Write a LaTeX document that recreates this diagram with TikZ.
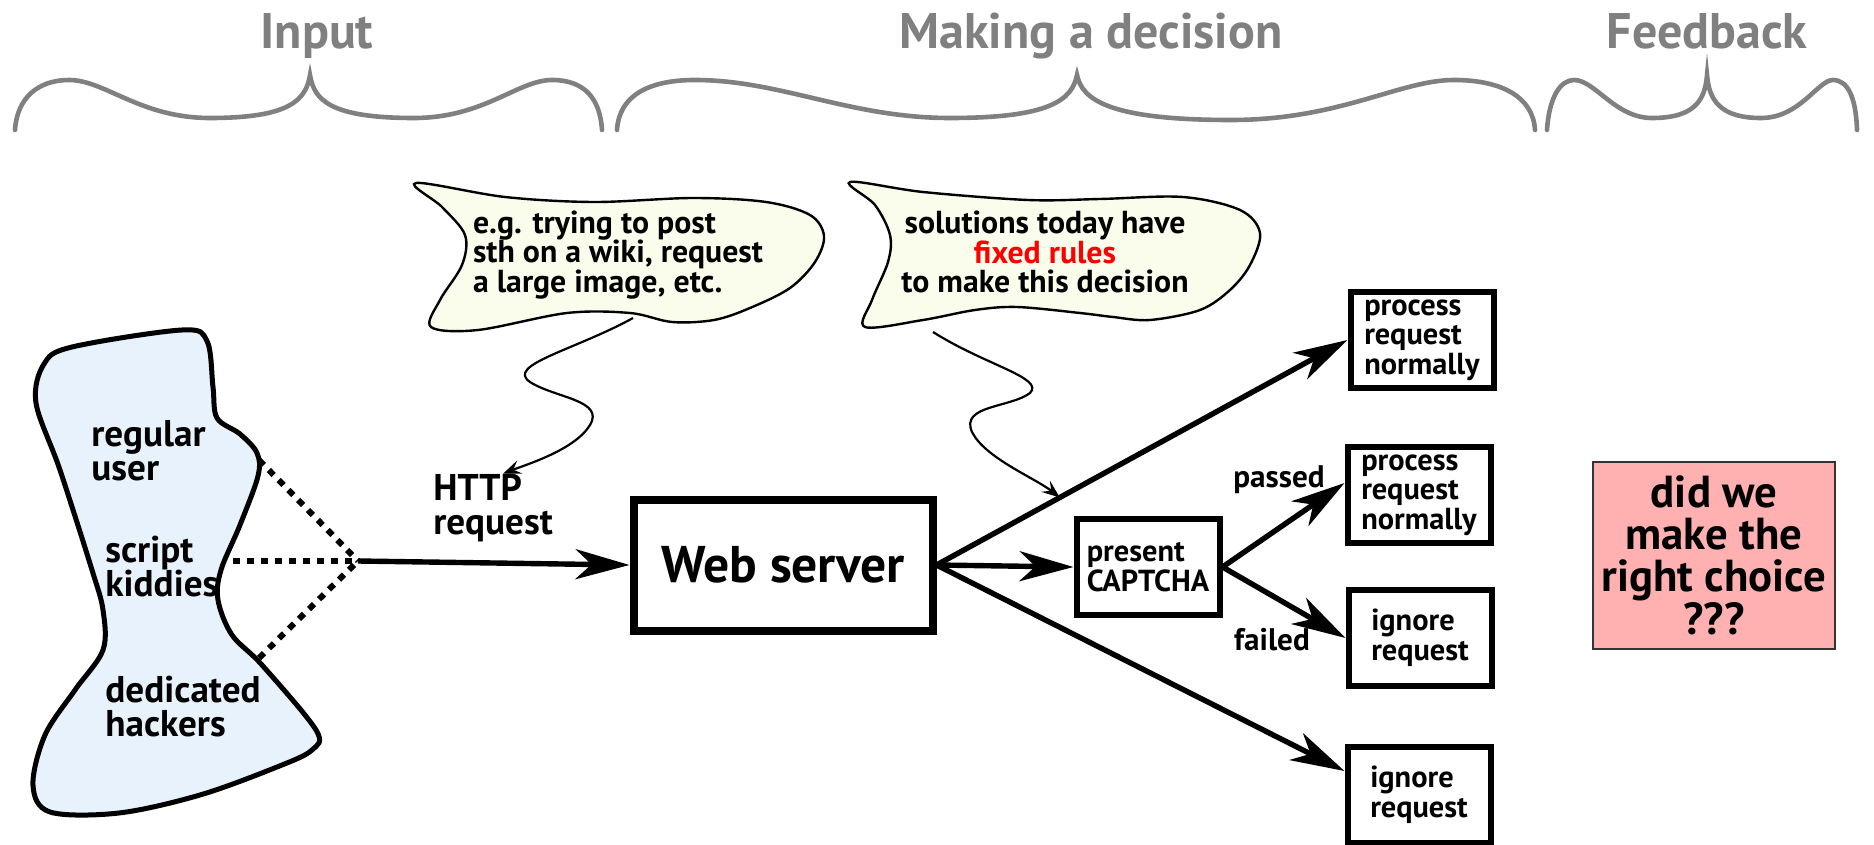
\documentclass[tikz,border=0pt]{standalone}
\usepackage{fontspec}
\setmainfont{PT Sans}
\usetikzlibrary{arrows.meta}

\definecolor{bracegray}{HTML}{808080}
\definecolor{crowdblue}{HTML}{E8F2FC}
\definecolor{noteyellow}{HTML}{FBFDEC}
\definecolor{doubtpink}{HTML}{FFB0B0}

\begin{document}
\begin{tikzpicture}[x=0.5pt, y=-0.5pt, font=\bfseries]
\tikzset{
  brace/.style = {draw=bracegray, line width=2.3pt, line cap=round},
  phase/.style = {text=bracegray, anchor=base, font=\bfseries\fontsize{25}{28}\selectfont},
  flow/.style = {line width=2.7pt, -{Stealth[length=27pt, width=15pt, inset=8pt]}},
  hint/.style = {line width=1.1pt, -{Stealth[length=9pt, width=7pt, inset=3.5pt]}},
  crowdlink/.style = {line width=3pt, dash pattern=on 3.5pt off 3.5pt},
  outcome/.style = {draw, line width=3pt, minimum width=71.5pt, minimum height=48pt,
    align=left, inner sep=0pt, font=\bfseries\fontsize{15.2}{14.8}\selectfont},
  server/.style = {draw, line width=4pt, minimum width=149.5pt, minimum height=65.5pt,
    font=\bfseries\fontsize{25.8}{28}\selectfont},
  verdict/.style = {draw=black!80, line width=1pt, fill=doubtpink, minimum width=121pt,
    minimum height=93.5pt, align=center, inner sep=0pt,
    font=\bfseries\fontsize{22.4}{21.2}\selectfont},
  who/.style = {anchor=west, align=left, inner sep=0pt, font=\bfseries\fontsize{18.6}{17}\selectfont},
  note/.style = {inner sep=0pt, font=\bfseries\fontsize{15.9}{14.8}\selectfont},
  small/.style = {inner sep=0pt, font=\bfseries\fontsize{15.6}{15}\selectfont}
}
\useasboundingbox (0,0) rectangle (1874,845);
\clip (0,0) rectangle (1874,845);

% phase headings and braces
\node[phase] (inhdr) at (317,49) {Input};
\node[phase] (dechdr) at (1091,49) {Making a decision};
\node[phase] (fbhdr) at (1707,49) {Feedback};

\draw[brace] (15,130) .. controls (17,98) and (38,80) .. (69,80)
  .. controls (105,80) and (140,118) .. (210,118)
  .. controls (290,118) and (306,100) .. (310,75)
  .. controls (314,100) and (330,118) .. (414,118)
  .. controls (484,118) and (518,80) .. (552,80)
  .. controls (584,80) and (600,98) .. (602,130);
\draw[brace] (617,130) .. controls (619,96) and (648,80) .. (695,80)
  .. controls (780,80) and (850,118) .. (950,118)
  .. controls (1050,118) and (1072,100) .. (1077,75)
  .. controls (1082,100) and (1110,120) .. (1231,120)
  .. controls (1340,120) and (1400,80) .. (1454,80)
  .. controls (1500,80) and (1533,96) .. (1535,130);
\draw[brace] (1547,130) .. controls (1549,98) and (1560,80) .. (1574,80)
  .. controls (1595,80) and (1615,118) .. (1652,118)
  .. controls (1695,118) and (1705,100) .. (1707,75)
  .. controls (1709,100) and (1720,118) .. (1761,118)
  .. controls (1800,118) and (1818,80) .. (1833,80)
  .. controls (1848,80) and (1856,98) .. (1857,130);

% the crowd of visitors
\draw[line width=2.5pt, fill=crowdblue] plot[smooth cycle, tension=0.55] coordinates {
  (36,403) (44,364) (72,347) (182,330) (207,341) (213,387) (217,418) (240,434)
  (257,453) (258,476) (240,525) (221,570) (218,600) (232,635) (262,665) (316,730)
  (312,750) (277,767) (200,795) (119,813) (50,812) (33,785) (45,735) (75,690)
  (103,650) (103,610) (92,570) (60,470)};
\node[who] (regular) at (91,451) {regular\\user};
\node[who] (kiddies) at (105,567) {script\\kiddies};
\node[who] (hackers) at (105,707) {dedicated\\hackers};

\coordinate (ru) at (259,460);
\coordinate (sk) at (233,561);
\coordinate (dh) at (259,658);
\coordinate (join) at (358,561);
\draw[crowdlink] (ru) -- (join);
\draw[crowdlink] (sk) -- (join);
\draw[crowdlink] (dh) -- (join);

\node[who] (http) at (433,508) {HTTP\\request};

% decision part
\node[server] (web) at (783,565) {Web server};
\node[outcome] (captcha) at (1148,567) {present\\CAPTCHA};
\node[outcome] (proc1) at (1422,340) {process\\request\\normally};
\node[outcome] (proc2) at (1419,495) {process\\request\\normally};
\node[outcome] (ign1) at (1420,638) {ignore\\request};
\node[outcome] (ign2) at (1419,795) {ignore\\request};
\node[small] (passed) at (1279,480) {passed};
\node[small] (failed) at (1272,640) {failed};

\draw[flow] (join) -- (web.west);
\draw[flow] (web.east) -- (proc1.west);
\draw[flow] (web.east) -- (captcha.west);
\draw[flow] (web.east) -- ([yshift=12pt]ign2.west);
\draw[flow] (captcha.east) -- ([yshift=6pt]proc2.west);
\draw[flow] (captcha.east) -- (ign1.west);

% feedback
\node[verdict] (doubt) at (1714,555) {did we\\make the\\right choice\\???};

% remarks
\draw[line width=1.2pt, fill=noteyellow] plot[smooth cycle, tension=0.55] coordinates {
  (416,183) (505,197) (594,202) (693,198) (766,202) (810,215) (824,236) (815,262)
  (790,288) (750,308) (714,320) (672,322) (630,313) (567,313) (478,330) (431,327)
  (440,300) (462,265) (465,235) (442,207)};
\node[note, align=left] (remark1) at (618,255) {e.g. trying to post\\sth on a wiki, request\\a large image, etc.};

\draw[line width=1.2pt, fill=noteyellow] plot[smooth cycle, tension=0.55] coordinates {
  (850,182) (923,192) (1028,200) (1100,199) (1183,197) (1240,210) (1260,233)
  (1250,265) (1230,290) (1200,310) (1150,320) (1113,317) (1080,313) (1017,307)
  (975,310) (923,320) (865,327) (872,300) (888,262) (890,235) (875,205)};
\node[note, align=center] (remark2) at (1045,252) {solutions today have\\\textcolor{red}{fixed rules}\\to make this decision};

\coordinate (tail1) at (633,318);
\coordinate (tail2) at (933,332);
\path (web.east) -- (proc1.west) coordinate[pos=0.3] (hit);
\draw[hint] (tail1) .. controls (575,350) and (505,365) .. (530,382)
  .. controls (555,398) and (605,400) .. (590,425)
  .. controls (575,450) and (525,465) .. ([xshift=35pt]http.north west);
\draw[hint] (tail2) .. controls (985,365) and (1045,378) .. (1030,393)
  .. controls (1010,408) and (960,405) .. (972,432)
  .. controls (985,458) and (1035,478) .. (hit);
\end{tikzpicture}
\end{document}
